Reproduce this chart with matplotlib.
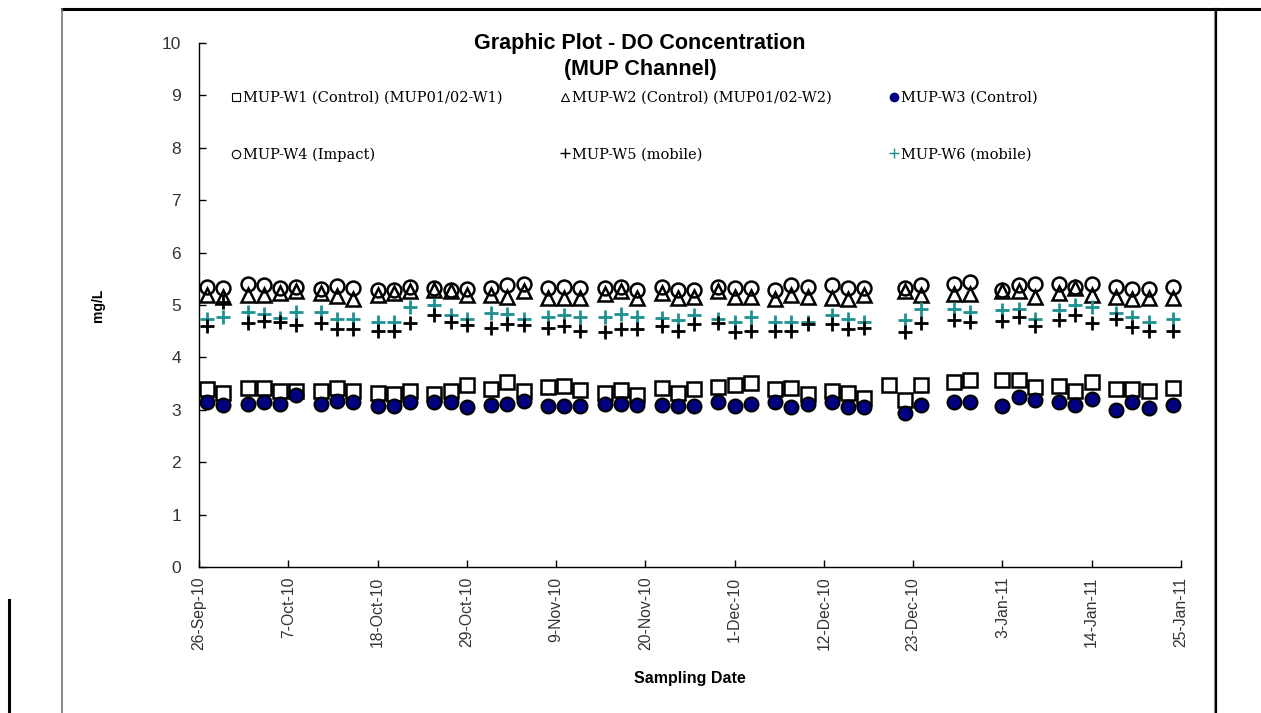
import datetime as dt

import matplotlib.dates as mdates
import matplotlib.pyplot as plt
import numpy as np
from matplotlib.lines import Line2D
from matplotlib.ticker import FuncFormatter

# sampling days counted from 26-Sep-2010
start = dt.date(2010, 9, 26)
sample_days = [1, 3, 6, 8, 10, 12, 15, 17, 19, 22, 24, 26, 29, 31, 33, 36, 38, 40,
               43, 45, 47, 50, 52, 54, 57, 59, 61, 64, 66, 68, 71, 73, 75, 78, 80,
               82, 85, 87, 89, 93, 95, 99, 101, 103, 106, 108, 110, 113, 115, 117, 120]
nan = np.nan

w1 = [3.39, 3.33, 3.41, 3.41, 3.36, 3.35, 3.36, 3.41, 3.35, 3.33, 3.30, 3.36, 3.30,
      3.36, 3.47, 3.39, 3.54, 3.36, 3.43, 3.45, 3.38, 3.33, 3.38, 3.28, 3.41, 3.33,
      3.39, 3.43, 3.47, 3.51, 3.39, 3.41, 3.31, 3.36, 3.33, 3.22, 3.47, 3.19, 3.47,
      3.54, 3.57, 3.57, 3.57, 3.43, 3.45, 3.35, 3.54, 3.39, 3.39, 3.35, 3.41]
w2 = [5.19, 5.16, 5.19, 5.19, 5.22, 5.27, 5.22, 5.17, 5.11, 5.19, 5.22, 5.27, 5.29,
      5.26, 5.19, 5.19, 5.15, 5.27, 5.13, 5.13, 5.13, 5.21, 5.26, 5.13, 5.22, 5.13,
      5.15, 5.26, 5.15, 5.15, 5.11, 5.19, 5.15, 5.13, 5.11, 5.19, nan, 5.27, 5.19,
      5.21, 5.21, 5.26, 5.27, 5.15, 5.22, 5.32, 5.19, 5.15, 5.11, 5.13, 5.13]
w3 = [3.14, 3.09, 3.12, 3.14, 3.11, 3.28, 3.12, 3.17, 3.14, 3.07, 3.07, 3.15, 3.15,
      3.15, 3.06, 3.09, 3.12, 3.17, 3.07, 3.07, 3.07, 3.12, 3.12, 3.09, 3.09, 3.07,
      3.07, 3.15, 3.07, 3.11, 3.14, 3.06, 3.11, 3.15, 3.05, 3.05, nan, 2.94, 3.09,
      3.15, 3.14, 3.07, 3.25, 3.19, 3.14, 3.09, 3.20, 3.00, 3.15, 3.03, 3.09]
w4 = [5.35, 5.32, 5.40, 5.38, 5.32, 5.35, 5.30, 5.36, 5.32, 5.29, 5.29, 5.35, 5.32,
      5.29, 5.30, 5.32, 5.38, 5.41, 5.32, 5.35, 5.32, 5.32, 5.35, 5.29, 5.35, 5.29,
      5.29, 5.35, 5.32, 5.32, 5.29, 5.38, 5.35, 5.38, 5.32, 5.32, nan, 5.32, 5.38,
      5.40, 5.44, 5.29, 5.38, 5.41, 5.41, 5.35, 5.41, 5.34, 5.30, 5.30, 5.34]
w5 = [4.59, 5.06, 4.66, 4.70, 4.68, 4.62, 4.65, 4.55, 4.55, 4.51, 4.51, 4.66, 4.81,
      4.68, 4.62, 4.57, 4.64, 4.62, 4.57, 4.59, 4.51, 4.48, 4.55, 4.55, 4.59, 4.51,
      4.64, 4.66, 4.48, 4.51, 4.51, 4.51, 4.64, 4.64, 4.55, 4.57, nan, 4.48, 4.66,
      4.72, 4.68, 4.70, 4.78, 4.59, 4.71, 4.81, 4.66, 4.74, 4.58, 4.51, 4.51]
w6 = [4.73, 4.78, 4.87, 4.82, 4.75, 4.87, 4.87, 4.73, 4.73, 4.68, 4.68, 4.96, 5.00,
      4.81, 4.73, 4.85, 4.82, 4.73, 4.78, 4.81, 4.78, 4.78, 4.82, 4.78, 4.75, 4.71,
      4.80, 4.73, 4.68, 4.78, 4.67, 4.67, 4.68, 4.80, 4.73, 4.68, nan, 4.72, 4.92,
      4.92, 4.87, 4.90, 4.92, 4.73, 4.90, 5.00, 4.96, 4.84, 4.78, 4.68, 4.73]

labels = ["MUP-W1 (Control) (MUP01/02-W1)", "MUP-W2 (Control) (MUP01/02-W2)",
          "MUP-W3 (Control)", "MUP-W4 (Impact)", "MUP-W5 (mobile)", "MUP-W6 (mobile)"]

dates = [start + dt.timedelta(days=d) for d in sample_days]
teal = "#1e9090"
sans = ["Liberation Sans Narrow", "Liberation Sans"]

W, H = 1261, 713
fig = plt.figure(figsize=(W / 100, H / 100), dpi=100)
ax = fig.add_axes([199 / W, 1 - 567 / H, (1181 - 199) / W, (567 - 43) / H])

ax.plot(dates, w4, marker="o", ms=10, mfc="none", mec="black", mew=1.8, ls="none")
ax.plot(dates, w2, marker="^", ms=10, mfc="none", mec="black", mew=1.8, ls="none")
ax.plot(dates, w6, marker="+", ms=10, mec=teal, mew=2.0, ls="none")
ax.plot(dates, w5, marker="+", ms=10, mec="black", mew=2.0, ls="none")
ax.plot(dates, w1, marker="s", ms=10, mfc="white", mec="black", mew=1.8, ls="none")
ax.plot(dates, w3, marker="o", ms=10, mfc="#000080", mec="black", mew=1.5, ls="none")

# legend handles (small, Excel-like), ordered so rows read W1 W2 W3 / W4 W5 W6
h = {
    0: Line2D([], [], marker="s", ms=6, mfc="white", mec="black", mew=0.8, ls="none"),
    1: Line2D([], [], marker="^", ms=6, mfc="white", mec="black", mew=0.8, ls="none"),
    2: Line2D([], [], marker="o", ms=6, mfc="#000080", mec="#000080", ls="none"),
    3: Line2D([], [], marker="o", ms=6, mfc="white", mec="black", mew=0.8, ls="none"),
    4: Line2D([], [], marker="+", ms=7, mec="black", mew=1.0, ls="none"),
    5: Line2D([], [], marker="+", ms=7, mec=teal, mew=1.0, ls="none"),
}
order = [0, 3, 1, 4, 2, 5]
ax.legend([h[i] for i in order], [labels[i] for i in order], ncol=3, loc="upper left",
          frameon=False, bbox_to_anchor=(232 / W, 1 - 91 / H),
          bbox_transform=fig.transFigure,
          prop={"family": "DejaVu Serif", "size": 10.5},
          handlelength=0.6, handletextpad=0.15, columnspacing=4.0,
          labelspacing=2.9, borderpad=0, borderaxespad=0)

ax.set_xlim(start, start + dt.timedelta(days=121))
ax.set_ylim(0, 10)
ax.set_yticks(range(0, 11))
ticks = [start + dt.timedelta(days=11 * i) for i in range(12)]
ax.set_xticks(ticks)
ax.xaxis.set_major_formatter(FuncFormatter(
    lambda v, p: (lambda d: f"{d.day}-{d:%b-%y}")(mdates.num2date(v))))
for lab in ax.get_xticklabels():
    lab.set_rotation(90)

ax.spines["top"].set_visible(False)
ax.spines["right"].set_visible(False)
for s in ["left", "bottom"]:
    ax.spines[s].set_linewidth(1.0)
ax.tick_params(direction="in", length=5, width=1.0)
ax.tick_params(axis="y", pad=13, labelsize=12.5)
ax.tick_params(axis="x", pad=7, labelsize=11.3)
for lab in ax.get_xticklabels() + ax.get_yticklabels():
    lab.set_family(sans)
    lab.set_color("#333333")

fig.text(640 / W, 1 - 43 / H, "Graphic Plot - DO Concentration", ha="center", va="center",
         fontsize=15.5, fontweight="bold", family=sans)
fig.text(640 / W, 1 - 70 / H, "(MUP Channel)", ha="center", va="center",
         fontsize=15.5, fontweight="bold", family=sans)
fig.text(98 / W, 1 - 305 / H, "mg/L", rotation=90, ha="center", va="center",
         fontsize=10, fontweight="bold", family=sans)
fig.text(690 / W, 1 - 678 / H, "Sampling Date", ha="center", va="center",
         fontsize=11.5, fontweight="bold", family=sans)

# surrounding table borders
def px_line(x0, y0, x1, y1, color="black", lw=2.0):
    fig.add_artist(Line2D([x0 / W, x1 / W], [1 - y0 / H, 1 - y1 / H],
                          transform=fig.transFigure, color=color, lw=lw))

px_line(62, 9, W, 9, lw=2.2)
px_line(62, 9, 62, H, color="#777777", lw=1.2)
px_line(1216, 9, 1216, H, lw=1.6)
px_line(1214, 11, 1214, H, color="#888888", lw=0.8)
px_line(9, 600, 9, H, lw=2.2)

fig.savefig("out.png", dpi=100)
